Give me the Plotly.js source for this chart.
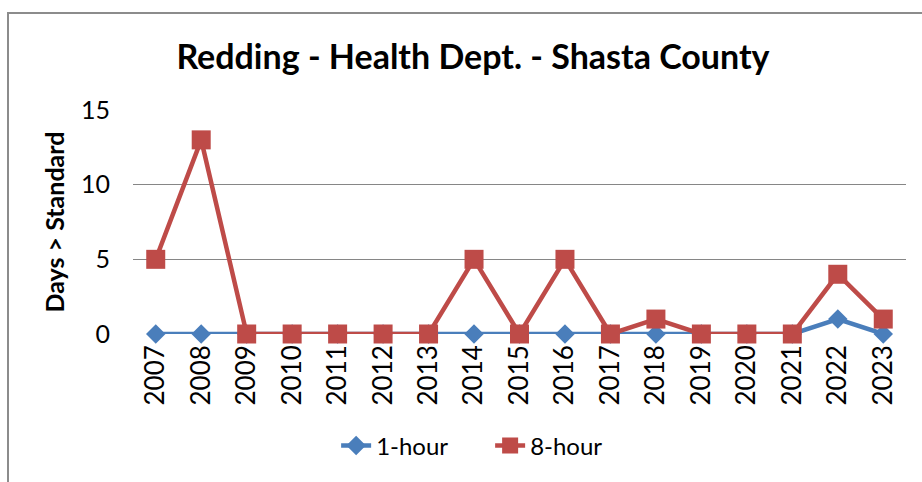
<!DOCTYPE html>
<html>
<head>
<meta charset="utf-8">
<script src="https://cdn.plot.ly/plotly-3.0.1.min.js"></script>
<style>
html,body{margin:0;padding:0;background:#fff;}
#frame{position:absolute;left:7px;top:12px;width:930px;height:490px;border:2px solid #8c8c8c;box-sizing:border-box;pointer-events:none;z-index:5;}
#chart{position:absolute;left:0;top:0;width:922px;height:482px;}
</style>
</head>
<body>
<div id="chart"></div>
<div id="frame"></div>
<script>
const years = ['2007','2008','2009','2010','2011','2012','2013','2014','2015','2016','2017','2018','2019','2020','2021','2022','2023'];
const oneHour = [0,0,0,0,0,0,0,0,0,0,0,0,0,0,0,1,0];
const eightHour = [5,13,0,0,0,0,0,5,0,5,0,1,0,0,0,4,1];
const yTicks = [0,5,10,15];

const FONT = 'Lato, "Open Sans", sans-serif';

const traces = [
  {x: years, y: oneHour, name: '1-hour', type: 'scatter', mode: 'lines+markers', cliponaxis: false,
   line: {color: '#4A7EBB', width: 4.5}, marker: {symbol: 'diamond', size: 15, color: '#4A7EBB'}},
  {x: years, y: eightHour, name: '8-hour', type: 'scatter', mode: 'lines+markers', cliponaxis: false,
   line: {color: '#BE4B48', width: 4.5}, marker: {symbol: 'square', size: 19, color: '#BE4B48'}}
];

const layout = {
  width: 922, height: 482,
  margin: {l: 133, r: 16, t: 110, b: 148},
  paper_bgcolor: '#fff', plot_bgcolor: '#fff',
  font: {family: FONT, color: '#000', size: 24},
  title: {text: '<b>Redding - Health Dept. - Shasta County</b>', x: 0.513, xanchor: 'center', y: 0.882, yanchor: 'middle',
          font: {family: FONT, size: 34, color: '#000'}},
  xaxis: {type: 'category', tickangle: -90, showgrid: false, zeroline: false, showline: false,
          ticks: '', tickfont: {size: 26, family: FONT}, ticklabelstandoff: 5, range: [-0.5, 16.5], fixedrange: true},
  yaxis: {range: [0, 15], tickvals: yTicks, showgrid: true, gridcolor: '#868686', gridwidth: 1.5,
          zeroline: false, showline: false, ticks: '', tickfont: {size: 25, family: FONT}, ticklabelstandoff: 22,
          title: {text: '<b>Days > Standard</b>', font: {size: 25, family: FONT}, standoff: 9}},
  legend: {orientation: 'h', x: 0.462, xanchor: 'center', y: -0.5, yanchor: 'middle',
           font: {size: 24, family: FONT}, entrywidth: 109},
  showlegend: true
};

Plotly.newPlot('chart', traces, layout, {displayModeBar: false, staticPlot: true});
</script>
</body>
</html>
